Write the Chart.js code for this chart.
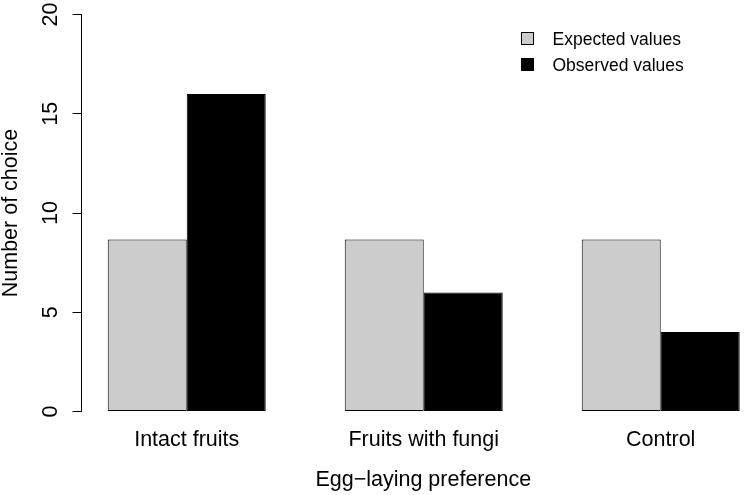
<!DOCTYPE html>
<html lang="en">
<head>
<meta charset="UTF-8">
<title>Egg-laying preference</title>
<style>
  body { margin: 0; background: #fff; overflow: hidden; }
  /* the R figure is cut off at the right edge, so the chart is a bit wider than the window */
  #chart-box { width: 765px; height: 495px; position: relative; }
</style>
</head>
<body>
<div id="chart-box"><canvas id="barChart"></canvas></div>

<script src="https://cdn.jsdelivr.net/npm/chart.js@4.4.0/dist/chart.umd.min.js"></script>
<script>
const categories = ['Intact fruits', 'Fruits with fungi', 'Control'];
const expectedValues = [8.67, 8.67, 8.67];
const observedValues = [16, 6, 4];
const seriesNames = ['Expected values', 'Observed values'];
const yTicks = [0, 5, 10, 15, 20];

const FONT = '"Liberation Sans", Arial, Helvetica, sans-serif';
Chart.defaults.font.family = FONT;
Chart.defaults.color = '#000';

// bars sit on a linear x scale so the groups can be shifted like R's barplot
function toPoints(values) {
    return values.map((v, i) => ({ x: i, y: v }));
}

// legend in the top right corner of the plot (R legend("topright", bty="n"))
const insideLegend = {
    id: 'insideLegend',
    afterDraw(chart) {
        const ctx = chart.ctx;
        ctx.save();
        ctx.font = '17.5px ' + FONT;
        ctx.textBaseline = 'alphabetic';
        ctx.lineWidth = 1;
        chart.data.datasets.forEach((ds, i) => {
            const top = 32.5 + i * 26;
            ctx.fillStyle = ds.backgroundColor;
            ctx.fillRect(521.5, top, 12, 12);
            ctx.strokeStyle = '#000';
            ctx.strokeRect(521.5, top, 12, 12);
            ctx.fillStyle = '#000';
            ctx.fillText(ds.label, 552.5, 45 + i * 26);
        });
        ctx.restore();
    }
};

new Chart(document.getElementById('barChart'), {
    type: 'bar',
    data: {
        datasets: [
            {
                label: seriesNames[0],
                data: toPoints(expectedValues),
                backgroundColor: '#cccccc',
                borderColor: '#000000',
                borderWidth: 1,
                borderSkipped: false
            },
            {
                label: seriesNames[1],
                data: toPoints(observedValues),
                backgroundColor: '#000000',
                borderColor: '#000000',
                borderWidth: 1,
                borderSkipped: false
            }
        ]
    },
    options: {
        responsive: true,
        maintainAspectRatio: false,
        animation: false,
        categoryPercentage: 2 / 3,
        barPercentage: 1,
        layout: { padding: { top: 14.5, right: 0, bottom: 0, left: 0 } },
        plugins: {
            legend: { display: false },
            tooltip: { enabled: false }
        },
        scales: {
            x: {
                type: 'linear',
                min: -0.444,
                max: 2.44,
                offset: false,
                bounds: 'data',
                afterBuildTicks: (s) => { s.ticks = categories.map((c, i) => ({ value: i })); },
                afterFit: (s) => { s.height = 83.5; s.paddingLeft = 0; s.paddingRight = 0; },
                grid: { display: false, drawTicks: false },
                border: { display: false },
                ticks: {
                    callback: (v) => categories[v],
                    font: { size: 21.5 },
                    padding: 16,
                    maxRotation: 0,
                    autoSkip: false
                },
                title: {
                    display: true,
                    text: 'Egg\u2212laying preference',
                    font: { size: 21.5, lineHeight: 1 },
                    padding: { top: 0, bottom: 3.75 }
                }
            },
            y: {
                min: 0,
                max: 20,
                afterBuildTicks: (s) => { s.ticks = yTicks.map((v) => ({ value: v })); },
                afterFit: (s) => { s.width = 81.5; s.paddingTop = 0; s.paddingBottom = 0; },
                grid: { drawOnChartArea: false, drawTicks: true, tickLength: 9, color: '#000', lineWidth: 1 },
                border: { display: true, color: '#000', width: 1 },
                ticks: {
                    minRotation: 90,
                    maxRotation: 90,
                    crossAlign: 'center',
                    padding: 9.5,
                    font: { size: 21.5 }
                },
                title: {
                    display: true,
                    text: 'Number of choice',
                    font: { size: 21.5, lineHeight: 1 },
                    padding: { top: 0, bottom: 0 }
                }
            }
        }
    },
    plugins: [insideLegend]
});
</script>
</body>
</html>
